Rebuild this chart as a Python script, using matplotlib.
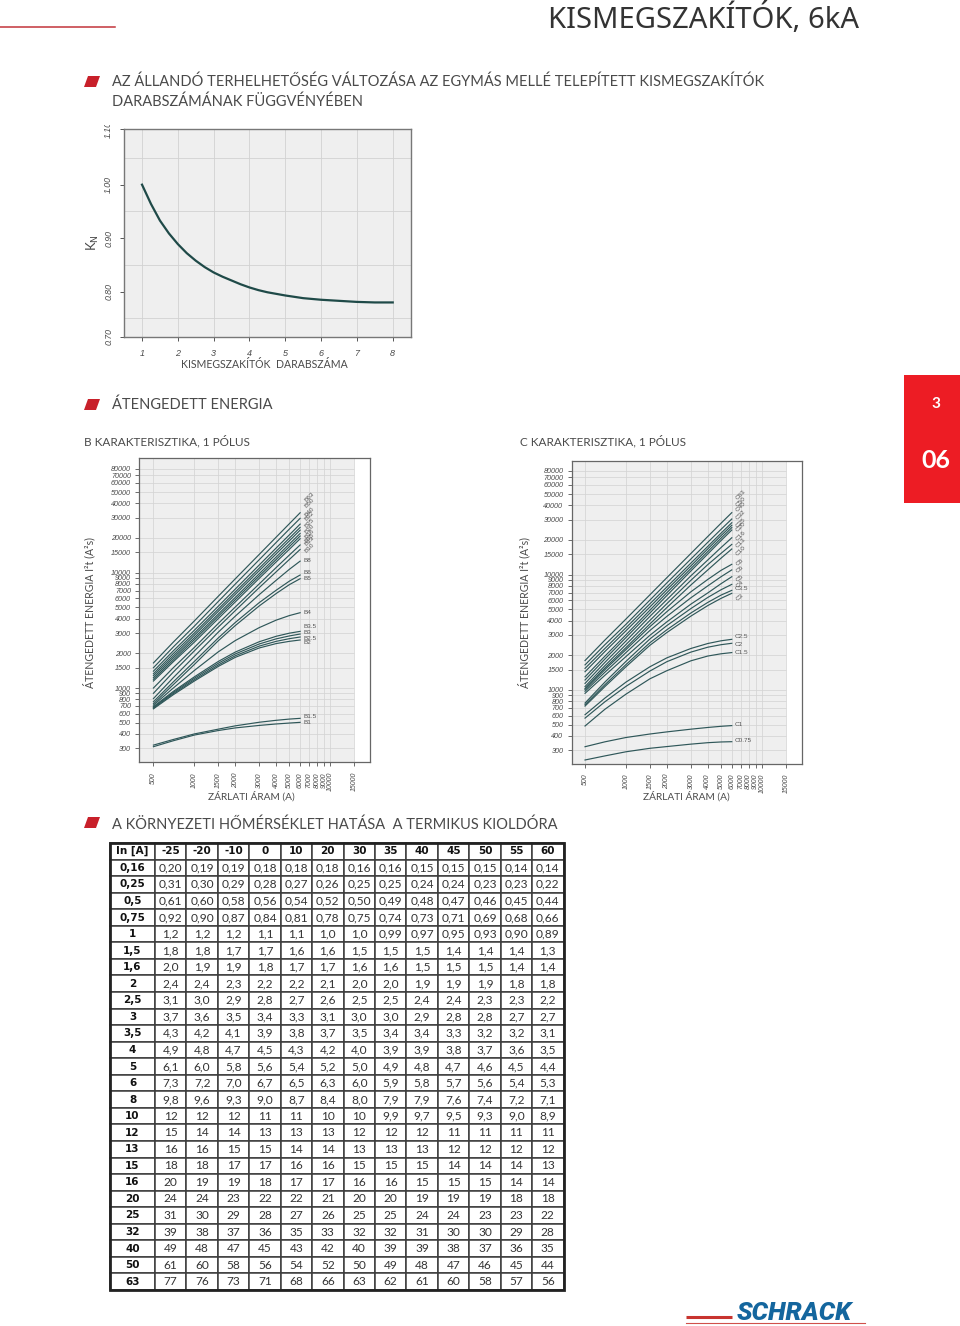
import matplotlib
matplotlib.use("Agg")
import matplotlib.pyplot as plt
from matplotlib.patches import Polygon, Rectangle
from matplotlib.transforms import Bbox

W, H = 960, 1326
BODY = "Lato"
ITAL = "Liberation Sans"
GREY = "#4a4a4a"
LINE = "#2f5759"

# ---- KN chart data
kn_n = [1, 1.25, 1.5, 1.75, 2, 2.25, 2.5, 2.75, 3, 3.25, 3.5, 3.75, 4, 4.25, 4.5, 4.75, 5, 5.5, 6, 6.5, 7, 7.5, 8]
kn_val = [1.0, 0.964, 0.933, 0.909, 0.889, 0.872, 0.858, 0.846, 0.836, 0.828, 0.821, 0.814, 0.808,
          0.803, 0.799, 0.796, 0.793, 0.788, 0.785, 0.783, 0.781, 0.78, 0.78]

# ---- energy charts
amps = [500, 700, 1000, 1500, 2000, 3000, 4000, 5000, 6000]
x_ticks = [500, 1000, 1500, 2000, 3000, 4000, 5000, 6000, 7000, 8000, 9000, 10000, 15000]
y_ticks = [300, 400, 500, 600, 700, 800, 900, 1000, 1500, 2000, 3000, 4000, 5000, 6000, 7000,
           8000, 9000, 10000, 15000, 20000, 30000, 40000, 50000, 60000, 70000, 80000]

b_names = ["B63", "B50", "B40", "B32", "B25", "B20", "B16", "B15", "B13", "B10",
           "B8", "B6", "B5", "B4", "B3,5", "B3", "B2,5", "B2", "B1,5", "B1"]
B63 = [1650, 2500, 3820, 6250, 8850, 14400, 20350, 26600, 33100]
B50 = [1500, 2270, 3440, 5630, 7970, 12960, 18300, 23900, 29600]
B40 = [1400, 2100, 3170, 5120, 7210, 11660, 16380, 21280, 26400]
B32 = [1330, 1990, 3000, 4840, 6800, 10940, 15360, 19950, 24700]
B25 = [1280, 1900, 2865, 4625, 6480, 10410, 14570, 18890, 23400]
B20 = [1230, 1825, 2730, 4375, 6100, 9790, 13680, 17740, 21900]
B16 = [1190, 1750, 2620, 4190, 5840, 9360, 13020, 16840, 20800]
B15 = [1150, 1690, 2500, 4000, 5580, 8930, 12410, 15960, 19700]
B13 = [1000, 1500, 2250, 3630, 5040, 7990, 11090, 14230, 17400]
B10 = [900, 1375, 2100, 3375, 4690, 7420, 10180, 13030, 15900]
B8 = [810, 1230, 1880, 3050, 4200, 6450, 8600, 10700, 12600]
B6 = [760, 1130, 1700, 2720, 3700, 5500, 7050, 8450, 9550]
B5 = [730, 1070, 1600, 2570, 3480, 5150, 6600, 7880, 8870]
B4 = [710, 1000, 1420, 2060, 2580, 3340, 3880, 4250, 4500]
B35 = [690, 935, 1250, 1700, 2050, 2520, 2810, 2990, 3100]
B3 = [680, 915, 1215, 1640, 1975, 2410, 2670, 2830, 2940]
B25a = [670, 895, 1180, 1585, 1905, 2310, 2540, 2680, 2770]
B2 = [660, 875, 1150, 1540, 1845, 2225, 2430, 2540, 2610]
B15a = [320, 358, 400, 440, 470, 505, 525, 538, 546]
B1 = [310, 349, 391, 428, 451, 474, 488, 497, 504]
b_series = [B63, B50, B40, B32, B25, B20, B16, B15, B13, B10, B8, B6, B5, B4, B35, B3, B25a, B2, B15a, B1]

c_names = ["C63", "C50", "C40", "C32", "C25", "C20", "C16", "C13", "C10",
           "C8", "C6", "C5", "C4", "C3,5", "C3", "C2,5", "C2", "C1,5", "C1", "C0,75"]
C63 = [1800, 2710, 4125, 6690, 9430, 15260, 21470, 27930, 34500]
C50 = [1650, 2470, 3710, 6020, 8490, 13660, 19110, 24720, 30400]
C40 = [1540, 2290, 3465, 5590, 7830, 12590, 17610, 22900, 28200]
C32 = [1440, 2155, 3260, 5250, 7400, 11900, 16750, 21790, 26800]
C25 = [1300, 1965, 3010, 4920, 6980, 11290, 15890, 20720, 25600]
C20 = [1220, 1855, 2850, 4650, 6600, 10760, 15140, 19750, 24400]
C16 = [1140, 1735, 2660, 4350, 6080, 9770, 13420, 17180, 20900]
C13 = [1070, 1625, 2475, 4010, 5610, 8930, 12240, 15300, 18300]
C10 = [1030, 1550, 2330, 3740, 5190, 8130, 11000, 13900, 16700]
C8 = [1010, 1500, 2240, 3540, 4780, 7100, 9100, 10900, 12300]
C6 = [975, 1425, 2110, 3280, 4350, 6300, 8000, 9600, 11000]
C5 = [935, 1340, 1950, 2980, 3900, 5550, 6950, 8350, 9600]
C4 = [770, 1170, 1770, 2770, 3620, 5080, 6350, 7400, 8240]
C35 = [745, 1110, 1660, 2570, 3330, 4650, 5750, 6650, 7310]
C3 = [725, 1070, 1590, 2440, 3150, 4370, 5400, 6230, 6890]
C25a = [610, 850, 1170, 1590, 1900, 2290, 2530, 2670, 2750]
C2 = [570, 790, 1075, 1460, 1760, 2130, 2350, 2470, 2540]
C15a = [487, 680, 920, 1250, 1470, 1790, 1970, 2060, 2110]
C1 = [322, 355, 387, 415, 433, 457, 473, 484, 491]
C075 = [247, 268, 291, 312, 323, 339, 349, 354, 356]
c_series = [C63, C50, C40, C32, C25, C20, C16, C13, C10, C8, C6, C5, C4, C35, C3, C25a, C2, C15a, C1, C075]

# ---- table data
temps = ["-25", "-20", "-10", "0", "10", "20", "30", "35", "40", "45", "50", "55", "60"]
in_a = ["0,16", "0,25", "0,5", "0,75", "1", "1,5", "1,6", "2", "2,5", "3", "3,5", "4", "5", "6", "8",
        "10", "12", "13", "15", "16", "20", "25", "32", "40", "50", "63"]
currents = [
    "0,20 0,19 0,19 0,18 0,18 0,18 0,16 0,16 0,15 0,15 0,15 0,14 0,14",
    "0,31 0,30 0,29 0,28 0,27 0,26 0,25 0,25 0,24 0,24 0,23 0,23 0,22",
    "0,61 0,60 0,58 0,56 0,54 0,52 0,50 0,49 0,48 0,47 0,46 0,45 0,44",
    "0,92 0,90 0,87 0,84 0,81 0,78 0,75 0,74 0,73 0,71 0,69 0,68 0,66",
    "1,2 1,2 1,2 1,1 1,1 1,0 1,0 0,99 0,97 0,95 0,93 0,90 0,89",
    "1,8 1,8 1,7 1,7 1,6 1,6 1,5 1,5 1,5 1,4 1,4 1,4 1,3",
    "2,0 1,9 1,9 1,8 1,7 1,7 1,6 1,6 1,5 1,5 1,5 1,4 1,4",
    "2,4 2,4 2,3 2,2 2,2 2,1 2,0 2,0 1,9 1,9 1,9 1,8 1,8",
    "3,1 3,0 2,9 2,8 2,7 2,6 2,5 2,5 2,4 2,4 2,3 2,3 2,2",
    "3,7 3,6 3,5 3,4 3,3 3,1 3,0 3,0 2,9 2,8 2,8 2,7 2,7",
    "4,3 4,2 4,1 3,9 3,8 3,7 3,5 3,4 3,4 3,3 3,2 3,2 3,1",
    "4,9 4,8 4,7 4,5 4,3 4,2 4,0 3,9 3,9 3,8 3,7 3,6 3,5",
    "6,1 6,0 5,8 5,6 5,4 5,2 5,0 4,9 4,8 4,7 4,6 4,5 4,4",
    "7,3 7,2 7,0 6,7 6,5 6,3 6,0 5,9 5,8 5,7 5,6 5,4 5,3",
    "9,8 9,6 9,3 9,0 8,7 8,4 8,0 7,9 7,9 7,6 7,4 7,2 7,1",
    "12 12 12 11 11 10 10 9,9 9,7 9,5 9,3 9,0 8,9",
    "15 14 14 13 13 13 12 12 12 11 11 11 11",
    "16 16 15 15 14 14 13 13 13 12 12 12 12",
    "18 18 17 17 16 16 15 15 15 14 14 14 13",
    "20 19 19 18 17 17 16 16 15 15 15 14 14",
    "24 24 23 22 22 21 20 20 19 19 19 18 18",
    "31 30 29 28 27 26 25 25 24 24 23 23 22",
    "39 38 37 36 35 33 32 32 31 30 30 29 28",
    "49 48 47 45 43 42 40 39 39 38 37 36 35",
    "61 60 58 56 54 52 50 49 48 47 46 45 44",
    "77 76 73 71 68 66 63 62 61 60 58 57 56",
]

# ---- label placement (page pixels)
b_label_y = [497, 503, 512, 516, 523, 529, 534, 538, 541, 548,
             561, 573, 579, 612, 626, 632, 638, 643, 717, 723]
b_label_rot = [45] * 10 + [0] * 10
c_label_y = [495, 502, 507, 515, 523, 527, 536, 543, 551,
             562, 569, 578, 584, 589, 597, 637, 644, 653, 724, 741]
c_label_rot = [45] * 9 + [40, 40, 40, 40, 0, 40, 0, 0, 0, 0, 0]

fig = plt.figure(figsize=(W / 100, H / 100), dpi=100, facecolor="white")


def axes_px(l, t, r, b, **kw):
    return fig.add_axes([l / W, 1 - b / H, (r - l) / W, (b - t) / H], **kw)


page = axes_px(0, 0, W, H)
page.set_xlim(0, W)
page.set_ylim(H, 0)
page.axis("off")
page.set_zorder(5)
page.patch.set_alpha(0)


def body(x, y, s, size=10.5, **kw):
    kw.setdefault("color", GREY)
    kw.setdefault("va", "center")
    kw.setdefault("ha", "left")
    kw.setdefault("family", BODY)
    page.text(x, y, s, fontsize=size, **kw)


def marker(y):
    page.add_patch(Polygon([(84, y + 5), (96, y + 5), (100, y - 6), (88, y - 6)],
                           closed=True, fc="#c8202a", ec="none"))


# header
page.plot([0, 115], [26.5, 26.5], color="#c2343a", lw=1.1)
body(548, 19, "KISMEGSZAKÍTÓK, 6kA", size=21, color="#333333", family="Noto Sans", weight="light")
marker(82)
body(112, 82, "AZ ÁLLANDÓ TERHELHETŐSÉG VÁLTOZÁSA AZ EGYMÁS MELLÉ TELEPÍTETT KISMEGSZAKÍTÓK")
body(112, 102, "DARABSZÁMÁNAK FÜGGVÉNYÉBEN")
marker(405)
body(112, 405, "ÁTENGEDETT ENERGIA")
body(84, 441, "B KARAKTERISZTIKA, 1 PÓLUS", size=8.5)
body(520, 441, "C KARAKTERISZTIKA, 1 PÓLUS", size=8.5)
marker(823)
body(112, 825, "A KÖRNYEZETI HŐMÉRSÉKLET HATÁSA  A TERMIKUS KIOLDÓRA")

# side tab
page.add_patch(Rectangle((904, 375), 56, 128, fc="#ed1c24", ec="none"))
body(936, 404, "3", size=11, color="white", ha="center", weight="bold")
body(936, 460, "06", size=18, color="white", ha="center", weight="bold")

# logo
page.plot([686, 732], [1317, 1317], color="#c8342f", lw=2.2, solid_capstyle="butt")
page.plot([686, 865], [1322.5, 1322.5], color="#d0504a", lw=0.8)
page.text(737, 1313, "SCHRACK", fontsize=18.5, family="Roboto", weight="black", style="italic",
          color="#14669e", va="center", ha="left")

# ---- KN chart
ax = axes_px(124.3, 129, 411, 336.7, facecolor="#efefef")
ax.set_xlim(0.505, 8.51)
ax.set_ylim(0.716, 1.104)
ax.plot(kn_n, kn_val, color="#1f4a48", lw=1.6, zorder=3)
ax.set_xticks([1, 2, 3, 4, 5, 6, 7, 8])
ax.set_xticklabels(list("12345678"), fontsize=6.5, family=ITAL, style="italic", color=GREY)
ax.set_yticks([0.716, 0.80, 0.90, 1.00, 1.104])
ylabs = ax.set_yticklabels(["0.70", "0.80", "0.90", "1.00", "1.10"], fontsize=6.3, family=ITAL,
                           style="italic", color=GREY, rotation=90, va="center")
ax.set_yticks([0.75, 0.80, 0.85, 0.90, 0.95, 1.00, 1.05], minor=True)
ax.tick_params(axis="y", which="minor", length=0)
ax.tick_params(axis="both", which="major", length=3, width=0.7, color="#555555", pad=5)
ax.tick_params(axis="x", which="major", pad=6)
ax.grid(True, axis="x", which="major", color="#d2d2d2", lw=0.6)
ax.grid(True, axis="y", which="minor", color="#d2d2d2", lw=0.6)
ax.set_axisbelow(True)
for s in ax.spines.values():
    s.set_color("#777777")
    s.set_linewidth(1.0)
ylabs[-1].set_clip_on(True)
ylabs[-1].set_clip_box(Bbox([[0, H - 400], [W, H - 125]]))
body(264, 364, "KISMEGSZAKÍTÓK  DARABSZÁMA", size=7.6, ha="center")
page.text(93, 243, r"K$_{\mathrm{N}}$", fontsize=9.5, color=GREY, rotation=90, ha="center", va="center",
          family=BODY)


# ---- energy charts
def energy(l, t, r, b, xlim, ylim, series, names, label_x, label_y, label_rot, ylab_x, xlab_x):
    a = axes_px(l, t, r, b, facecolor="white")
    a.set_xscale("log")
    a.set_yscale("log")
    a.set_xlim(*xlim)
    a.set_ylim(*ylim)
    a.axvspan(xlim[0], 15000, color="#efefef", lw=0, zorder=0)
    a.vlines(x_ticks, ylim[0], ylim[1], color="#d4d4d4", lw=0.55, zorder=1)
    a.hlines(y_ticks, xlim[0], 15000, color="#d4d4d4", lw=0.55, zorder=1)
    for vals in series:
        a.plot(amps, vals, color=LINE, lw=0.85, zorder=3, solid_joinstyle="round")
    a.set_xticks(x_ticks)
    a.set_xticklabels([str(v) for v in x_ticks], rotation=90, fontsize=5.0, family=ITAL,
                      style="italic", color=GREY)
    a.set_yticks(y_ticks)
    a.set_yticklabels([str(v) for v in y_ticks], fontsize=5.2, family=ITAL, style="italic", color=GREY)
    a.minorticks_off()
    a.tick_params(axis="both", which="major", length=3, width=0.6, color="#555555", pad=3)
    a.tick_params(axis="x", pad=4)
    for s in a.spines.values():
        s.set_color("#666666")
        s.set_linewidth(0.9)
    for n, yy, rot in zip(names, label_y, label_rot):
        page.text(label_x, yy, n.replace(",", "."), fontsize=4.6, family=ITAL, color="#555555",
                  rotation=rot, ha="left", va="center")
    body(ylab_x, 613, "ÁTENGEDETT ENERGIA I²t (A²s)", size=7.6, rotation=90, ha="center")
    body(xlab_x, 796, "ZÁRLATI ÁRAM (A)", size=7.3, ha="center")


energy(139.3, 458.3, 370, 762.3, (393.6, 19600), (227, 98200), b_series, b_names,
       304, b_label_y, b_label_rot, 89, 251.5)
energy(571.7, 460.7, 802.3, 764, (399, 19800), (228, 97400), c_series, c_names,
       735, c_label_y, c_label_rot, 524, 686)

# ---- table
tax = axes_px(110, 843, 563.5, 1290)
tax.axis("off")
first_w = 45.0 / 453.5
other_w = (1 - first_w) / len(temps)
rows = [["In [A]"] + temps] + [[i] + c.split() for i, c in zip(in_a, currents)]
tbl = tax.table(cellText=rows, cellLoc="center", bbox=[0, 0, 1, 1],
                colWidths=[first_w] + [other_w] * len(temps))
tbl.auto_set_font_size(False)
for (r, c), cell in tbl.get_celld().items():
    cell.set_edgecolor("#3c3c3c")
    cell.set_linewidth(1.1)
    txt = cell.get_text()
    bold = r == 0 or c == 0
    txt.set_family("DejaVu Sans" if bold else BODY)
    txt.set_fontsize(7.5 if bold else 8.6)
    txt.set_weight("bold" if bold else "normal")
    txt.set_color("#111111" if bold else "#333333")
tax.add_patch(Rectangle((0, 0), 1, 1, transform=tax.transAxes, fill=False, ec="#222222", lw=2.0, clip_on=False,
                        zorder=10))

fig.savefig("out.png", dpi=100, facecolor="white")
